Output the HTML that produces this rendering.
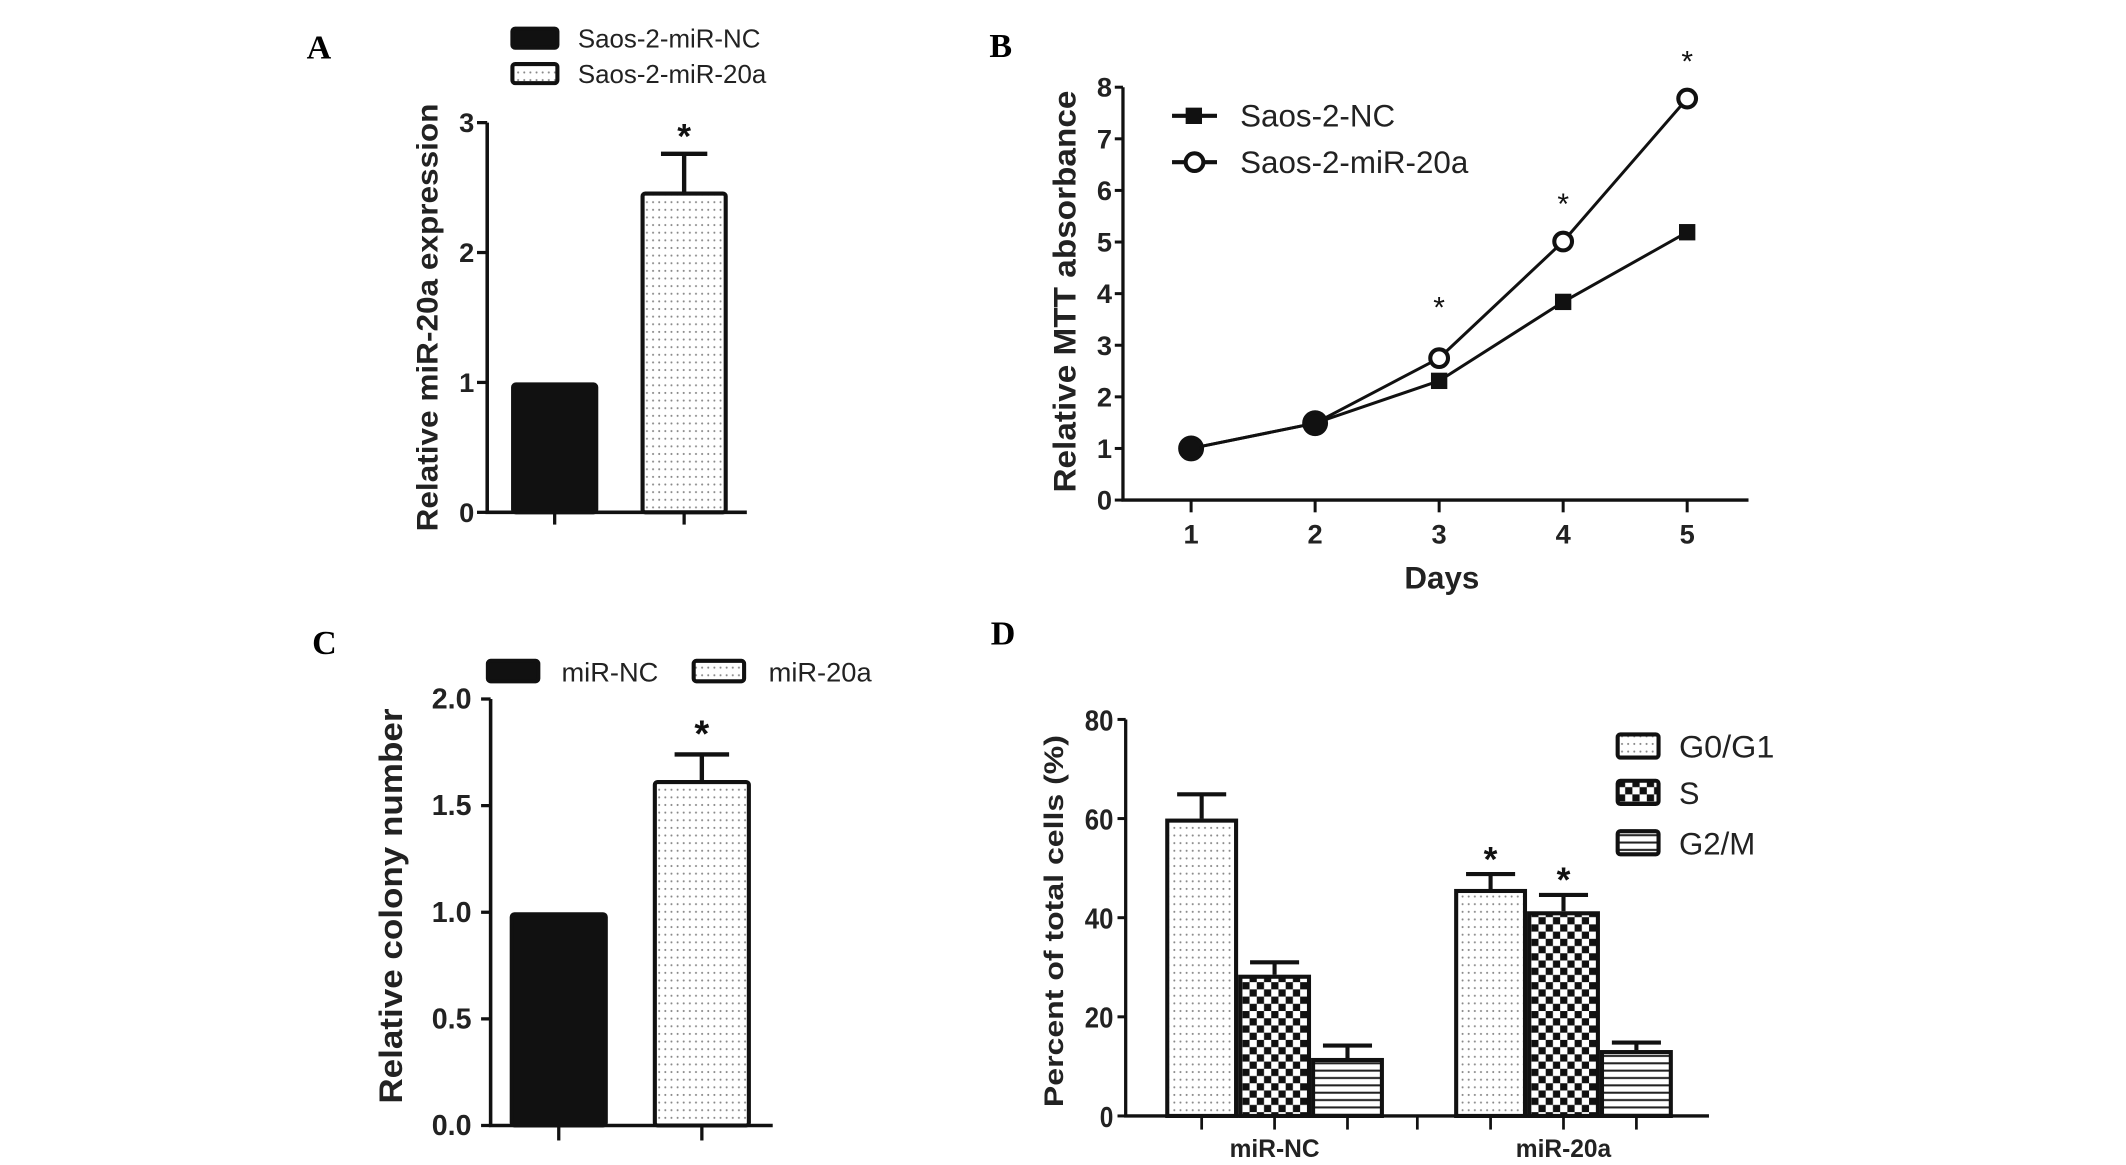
<!DOCTYPE html>
<html><head><meta charset="utf-8">
<style>
html,body{margin:0;padding:0;background:#fff;}
svg{display:block;}
text{font-family:"Liberation Sans",Arial,sans-serif;}
.pl{font-family:"Liberation Serif","Times New Roman",serif;font-weight:bold;font-size:25px;}
</style></head>
<body>
<svg id="fig" xmlns="http://www.w3.org/2000/svg" width="2126" height="1165" viewBox="0 0 1560 855" preserveAspectRatio="none">
<defs>
<pattern id="dots" width="4.5" height="5.6" patternUnits="userSpaceOnUse"><rect width="4.5" height="5.6" fill="#fff"/><circle cx="2.2" cy="2.8" r="0.75" fill="#888"/></pattern>
<pattern id="check" width="10.6" height="10.6" patternUnits="userSpaceOnUse"><rect width="10.6" height="10.6" fill="#fff"/><rect width="5.3" height="5.3" fill="#111"/><rect x="5.3" y="5.3" width="5.3" height="5.3" fill="#111"/></pattern>
<pattern id="hlines" width="6" height="5.4" patternUnits="userSpaceOnUse"><rect width="6" height="5.4" fill="#fff"/><rect y="2" width="6" height="1.5" fill="#222"/></pattern>
</defs>
</svg>
<script>
// ---------- Panel A data ----------
const aCategories = ['Saos-2-miR-NC', 'Saos-2-miR-20a'];
const aValues = [1.0, 2.47];
const aErrors = [0, 0.29];
const aTicks = [0, 1, 2, 3];
// ---------- Panel B data ----------
const bDays = [1, 2, 3, 4, 5];
const bNC = [1.0, 1.49, 2.31, 3.84, 5.19];
const bMiR = [1.0, 1.49, 2.75, 5.01, 7.78];
const bStars = [false, false, true, true, true];
const bTicks = [0, 1, 2, 3, 4, 5, 6, 7, 8];
// ---------- Panel C data ----------
const cCategories = ['miR-NC', 'miR-20a'];
const cValues = [1.0, 1.62];
const cErrors = [0, 0.12];
const cTicks = [0, 0.5, 1.0, 1.5, 2.0];
const cTickLabels = ['0.0', '0.5', '1.0', '1.5', '2.0'];
// ---------- Panel D data ----------
const dGroups = ['miR-NC', 'miR-20a'];
const dSeries = ['G0/G1', 'S', 'G2/M'];
const dG0 = [60.0, 45.8];
const dG0Err = [4.9, 3.0];
const dS = [28.5, 41.3];
const dSErr = [2.5, 3.3];
const dG2 = [11.7, 13.3];
const dG2Err = [2.5, 1.5];
const dStarsG0 = [false, true];
const dStarsS = [false, true];
const dTicks = [0, 20, 40, 60, 80];

const NS = 'http://www.w3.org/2000/svg';
const svg = document.getElementById('fig');
function mk(tag, attrs, parent) {
  const e = document.createElementNS(NS, tag);
  for (const k in attrs) e.setAttribute(k, attrs[k]);
  (parent || svg).appendChild(e);
  return e;
}
function txt(s, attrs, parent) { const e = mk('text', attrs, parent); e.textContent = s; return e; }
function grp(name) {
  const g = mk('g', {});
  
  
  return g;
}
const K = '#111';

// ================= Panel A =================
(function () {
  const g = grp('panel-a');
  const y = v => 376 - v * (376 - 90) / 3;
  const xc = i => 407 + i * 95;
  const lab = txt('A', {x: 225, y: 43, class: 'pl'}, g);
  
  
  const fills = [K, 'url(#dots)'];
  aCategories.forEach((c, i) => {
    const ly = 28 + i * 26;
    const sw = mk('rect', {x: 376, y: ly - 7, width: 33, height: 14, rx: 2, fill: fills[i], stroke: K, 'stroke-width': 3}, g);
    
    
    const t = txt(c, {x: 424, y: ly + 7, 'font-size': 19, fill: '#222'}, g);
    
    
  });
  const ax = mk('path', {d: `M357.5 ${y(3)} V376 H548`, fill: 'none', stroke: K, 'stroke-width': 2.6}, g);
  
  
  aTicks.forEach(v => {
    mk('line', {x1: 350, x2: 357.5, y1: y(v), y2: y(v), stroke: K, 'stroke-width': 2.4}, g);
    const t = txt(String(v), {x: 348, y: y(v) + 7, 'font-size': 20, 'font-weight': 'bold', 'text-anchor': 'end', fill: '#222'}, g);
    
    
  });
  aValues.forEach((v, i) => {
    mk('line', {x1: xc(i), x2: xc(i), y1: 376, y2: 385, stroke: K, 'stroke-width': 2.4}, g);
    const b = mk('rect', {x: xc(i) - 32 + 1.5, y: y(v) + 1.5, width: 61, height: 376 - y(v) - 1.5, rx: 2, fill: fills[i], stroke: K, 'stroke-width': 3}, g);
    
    
    if (aErrors[i] > 0) {
      mk('path', {d: `M${xc(i)} ${y(v)} V${y(v + aErrors[i])} M${xc(i) - 17} ${y(v + aErrors[i])} H${xc(i) + 17}`, stroke: K, 'stroke-width': 3.2, fill: 'none'}, g);
      const s = txt('*', {x: xc(i), y: y(v + aErrors[i]) - 4, 'font-size': 26, 'font-weight': 'bold', 'text-anchor': 'middle', fill: K}, g);
      
      
    }
  });
  const yt = txt('Relative miR-20a expression', {x: 0, y: 0, 'font-size': 22, 'font-weight': 'bold', 'text-anchor': 'middle', fill: '#222', transform: 'translate(321,233) rotate(-90)', textLength: 314, lengthAdjust: 'spacingAndGlyphs'}, g);
  
  
})();

// ================= Panel B =================
(function () {
  const g = grp('panel-b');
  const x = d => 874 + (d - 1) * 91;
  const y = v => 367 - v * (367 - 64) / 8;
  const lab = txt('B', {x: 726, y: 42, class: 'pl'}, g);
  
  
  const ax = mk('path', {d: `M824 ${y(8)} V367 H1283`, fill: 'none', stroke: K, 'stroke-width': 2.4}, g);
  
  
  bTicks.forEach(v => {
    mk('line', {x1: 818, x2: 824, y1: y(v), y2: y(v), stroke: K, 'stroke-width': 2.2}, g);
    const t = txt(String(v), {x: 816, y: y(v) + 7, 'font-size': 20, 'font-weight': 'bold', 'text-anchor': 'end', fill: '#222'}, g);
    
    
  });
  bDays.forEach(d => {
    mk('line', {x1: x(d), x2: x(d), y1: 367, y2: 376, stroke: K, 'stroke-width': 2.2}, g);
    const t = txt(String(d), {x: x(d), y: 399, 'font-size': 20, 'font-weight': 'bold', 'text-anchor': 'middle', fill: '#222'}, g);
    
    
  });
  const xt = txt('Days', {x: 1058, y: 432, 'font-size': 23, 'font-weight': 'bold', 'text-anchor': 'middle', fill: '#222'}, g);
  
  
  const yt = txt('Relative MTT absorbance', {x: 0, y: 0, 'font-size': 23, 'font-weight': 'bold', 'text-anchor': 'middle', fill: '#222', transform: 'translate(789,214) rotate(-90)', textLength: 295, lengthAdjust: 'spacingAndGlyphs'}, g);
  
  
  const l1 = mk('polyline', {points: bDays.map((d, i) => x(d) + ',' + y(bNC[i])).join(' '), fill: 'none', stroke: K, 'stroke-width': 2.2}, g);
  
  
  const l2 = mk('polyline', {points: bDays.map((d, i) => x(d) + ',' + y(bMiR[i])).join(' '), fill: 'none', stroke: K, 'stroke-width': 2.2}, g);
  
  
  bDays.forEach((d, i) => {
    const sq = mk('rect', {x: x(d) - 6, y: y(bNC[i]) - 6, width: 12, height: 12, fill: K}, g);
    
    
    const filled = bMiR[i] === bNC[i];
    const c = mk('circle', {cx: x(d), cy: y(bMiR[i]), r: filled ? 8 : 6.5, fill: filled ? K : '#fff', stroke: K, 'stroke-width': 3}, g);
    
    
    if (bStars[i]) {
      const s = txt('*', {x: x(d), y: y(bMiR[i]) - 20 - (d === 3 ? 10 : 0), 'font-size': 22, 'text-anchor': 'middle', fill: K}, g);
      
      
    }
  });
  const names = ['Saos-2-NC', 'Saos-2-miR-20a'];
  names.forEach((n, i) => {
    const ly = 85 + i * 34;
    mk('line', {x1: 860, x2: 893, y1: ly, y2: ly, stroke: K, 'stroke-width': 3}, g);
    if (i === 0) mk('rect', {x: 870, y: ly - 6, width: 12, height: 12, fill: K}, g);
    else mk('circle', {cx: 876.5, cy: ly, r: 6.5, fill: '#fff', stroke: K, 'stroke-width': 3}, g);
    const t = txt(n, {x: 910, y: ly + 8, 'font-size': 23, fill: '#222'}, g);
    
    
  });
})();

// ================= Panel C =================
(function () {
  const g = grp('panel-c');
  const y = v => 826 - v * (826 - 513) / 2;
  const xc = i => 410 + i * 105;
  const lab = txt('C', {x: 229, y: 480, class: 'pl'}, g);
  
  
  const fills = [K, 'url(#dots)'];
  cCategories.forEach((c, i) => {
    const sx = [358, 509][i];
    const sw = mk('rect', {x: sx, y: 485, width: 37, height: 15, rx: 2, fill: fills[i], stroke: K, 'stroke-width': 3}, g);
    
    
    const t = txt(c, {x: [412, 564][i], y: 500, 'font-size': 20, fill: '#222'}, g);
    
    
  });
  const ax = mk('path', {d: `M360 ${y(2)} V826 H567`, fill: 'none', stroke: K, 'stroke-width': 2.6}, g);
  
  
  cTicks.forEach((v, i) => {
    mk('line', {x1: 353, x2: 360, y1: y(v), y2: y(v), stroke: K, 'stroke-width': 2.4}, g);
    const t = txt(cTickLabels[i], {x: 346, y: y(v) + 7, 'font-size': 21, 'font-weight': 'bold', 'text-anchor': 'end', fill: '#222'}, g);
    
    
  });
  cValues.forEach((v, i) => {
    mk('line', {x1: xc(i), x2: xc(i), y1: 826, y2: 837, stroke: K, 'stroke-width': 2.4}, g);
    const b = mk('rect', {x: xc(i) - 36 + 1.5, y: y(v) + 1.5, width: 69, height: 826 - y(v) - 1.5, rx: 2, fill: fills[i], stroke: K, 'stroke-width': 3}, g);
    
    
    if (cErrors[i] > 0) {
      mk('path', {d: `M${xc(i)} ${y(v)} V${y(v + cErrors[i])} M${xc(i) - 20} ${y(v + cErrors[i])} H${xc(i) + 20}`, stroke: K, 'stroke-width': 3.2, fill: 'none'}, g);
      const s = txt('*', {x: xc(i), y: y(v + cErrors[i]) - 6, 'font-size': 28, 'font-weight': 'bold', 'text-anchor': 'middle', fill: K}, g);
      
      
    }
  });
  const yt = txt('Relative colony number', {x: 0, y: 0, 'font-size': 24, 'font-weight': 'bold', 'text-anchor': 'middle', fill: '#222', transform: 'translate(295,665) rotate(-90)', textLength: 290, lengthAdjust: 'spacingAndGlyphs'}, g);
  
  
})();

// ================= Panel D =================
(function () {
  const g = grp('panel-d');
  const y = v => 819 - v * (819 - 528) / 80;
  const bw = 53.5;
  const gx = i => 855 + i * 212;
  const lab = txt('D', {x: 727, y: 473, class: 'pl'}, g);
  
  
  const ax = mk('path', {d: `M826 ${y(80)} V819 H1254`, fill: 'none', stroke: K, 'stroke-width': 2.4}, g);
  
  
  dTicks.forEach(v => {
    mk('line', {x1: 820, x2: 826, y1: y(v), y2: y(v), stroke: K, 'stroke-width': 2.2}, g);
    const t = txt(String(v), {x: 817, y: y(v) + 8, 'font-size': 21, 'font-weight': 'bold', 'text-anchor': 'end', fill: '#222', 'textLength': v === 0 ? 10 : 21, lengthAdjust: 'spacingAndGlyphs'}, g);
    
    
  });
  const series = [[dG0, dG0Err, 'url(#dots)', dStarsG0], [dS, dSErr, 'url(#check)', dStarsS], [dG2, dG2Err, 'url(#hlines)', null]];
  mk('line', {x1: 1040, x2: 1040, y1: 819, y2: 829, stroke: K, 'stroke-width': 2}, g);
  dGroups.forEach((grpName, gi) => {
    series.forEach((s, si) => {
      const v = s[0][gi], e = s[1][gi];
      const x0 = gx(gi) + si * bw;
      const cx = x0 + bw / 2;
      mk('line', {x1: cx, x2: cx, y1: 819, y2: 829, stroke: K, 'stroke-width': 2}, g);
      mk('path', {d: `M${cx} ${y(v)} V${y(v + e)} M${cx - 18} ${y(v + e)} H${cx + 18}`, stroke: K, 'stroke-width': 3, fill: 'none'}, g);
      const b = mk('rect', {x: x0 + 1.5, y: y(v) + 1.5, width: bw - 3, height: 819 - y(v) - 1.5, fill: s[2], stroke: K, 'stroke-width': 3}, g);
      
      
      if (s[3] && s[3][gi]) {
        const st = txt('*', {x: cx, y: y(v + e) - 2, 'font-size': 26, 'font-weight': 'bold', 'text-anchor': 'middle', fill: K}, g);
        
        
      }
    });
    const t = txt(grpName, {x: gx(gi) + bw * 1.5, y: 849, 'font-size': 18, 'font-weight': 'bold', 'text-anchor': 'middle', fill: '#222'}, g);
    
    
  });
  const legY = [547, 581, 618];
  dSeries.forEach((n, i) => {
    const sw = mk('rect', {x: 1187, y: legY[i] - 8, width: 30, height: 17, rx: 2, fill: series[i][2], stroke: K, 'stroke-width': 3}, g);
    
    
    const t = txt(n, {x: 1232, y: legY[i] + 9, 'font-size': 23, fill: '#222', textLength: [70, 15, 56][i], lengthAdjust: 'spacingAndGlyphs'}, g);
    
    
  });
  const yt = txt('Percent of total cells (%)', {x: 0, y: 0, 'font-size': 20, 'font-weight': 'bold', 'text-anchor': 'middle', fill: '#222', transform: 'translate(780,676) rotate(-90)', textLength: 273, lengthAdjust: 'spacingAndGlyphs'}, g);
  
  
})();
</script>
</body></html>
